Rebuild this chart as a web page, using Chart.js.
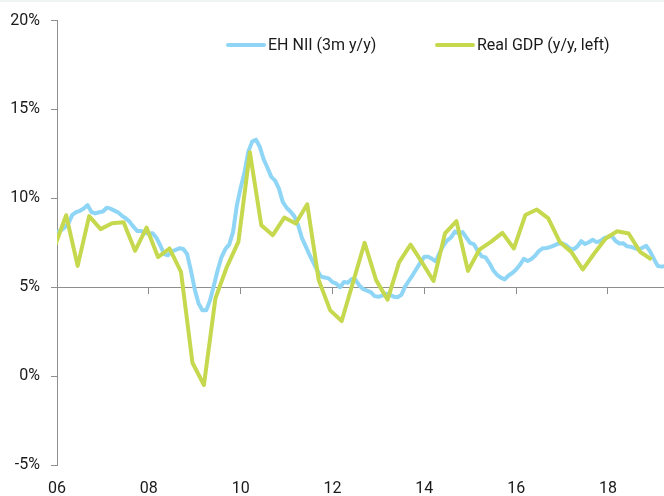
<!DOCTYPE html>
<html>
<head>
<meta charset="utf-8">
<script src="https://cdn.jsdelivr.net/npm/chart.js@4.4.1/dist/chart.umd.min.js"></script>
<style>
  html, body { margin: 0; padding: 0; background: #ffffff; }
  #wrap { position: relative; width: 664px; height: 496px; }
  #strip { position: absolute; left: 0; top: 0; width: 664px; height: 2px; background: #eef4ef; z-index: 2; }
  canvas { position: absolute; left: 0; top: 0; }
</style>
</head>
<body>
<div id="wrap"><div id="strip"></div><canvas id="c" width="664" height="496"></canvas></div>
<script>
// ---- data ----
const niiLabel = 'EH NII (3m y/y)';
const gdpLabel = 'Real GDP (y/y, left)';
const niiStartYear = 2006;            // monthly series starting Jan 2006
const ehNii = [
  8.1, 8.2, 8.37, 8.6, 9.07, 9.22, 9.3, 9.43, 9.62, 9.23, 9.15, 9.22,
  9.26, 9.47, 9.42, 9.31, 9.2, 9.02, 8.87, 8.68, 8.39, 8.16, 8.16, 8.05,
  8.02, 8.04, 7.77, 7.35, 6.87, 6.8, 7.02, 7.1, 7.19, 7.15, 6.87, 5.95,
  4.88, 4.08, 3.7, 3.7, 4.27, 5.1, 5.97, 6.7, 7.15, 7.4, 8.1, 9.6,
  10.6, 11.45, 12.63, 13.19, 13.3, 12.9, 12.2, 11.72, 11.21, 11.0, 10.55, 9.8,
  9.47, 9.26, 9.0, 8.5, 7.78, 7.3, 6.82, 6.38, 5.95, 5.6, 5.55, 5.5,
  5.29, 5.2, 5.0, 5.3, 5.25, 5.46, 5.42, 5.1, 4.9, 4.81, 4.72, 4.5,
  4.46, 4.53, 4.64, 4.57, 4.47, 4.44, 4.57, 5.05, 5.38, 5.7, 6.05, 6.4,
  6.71, 6.71, 6.6, 6.45, 6.95, 7.35, 7.64, 7.8, 8.13, 8.03, 8.1, 7.79,
  7.49, 7.41, 7.03, 6.74, 6.68, 6.36, 5.96, 5.7, 5.54, 5.44, 5.66, 5.8,
  6.0, 6.26, 6.6, 6.48, 6.59, 6.78, 7.05, 7.2, 7.21, 7.27, 7.36, 7.45,
  7.47, 7.37, 7.19, 7.13, 7.3, 7.59, 7.43, 7.53, 7.67, 7.54, 7.6, 7.76,
  7.84, 7.88, 7.6, 7.46, 7.47, 7.3, 7.27, 7.2, 7.12, 7.22, 7.33, 7.02,
  6.6, 6.2, 6.16, 6.19
];
const gdpStartYear = 2005.95;         // quarterly series
const realGdp = [
  7.3, 9.05, 6.2, 9.0, 8.27, 8.6, 8.66, 7.05, 8.36, 6.7, 7.18, 5.87,
  0.75, -0.5, 4.37, 6.15, 7.55, 12.6, 8.49, 7.93, 8.92, 8.58, 9.67, 5.4,
  3.7, 3.1, 5.3, 7.5, 5.4, 4.3, 6.4, 7.4, 6.4, 5.35, 8.03, 8.72,
  5.92, 7.12, 7.55, 8.06, 7.18, 9.06, 9.37, 8.87, 7.55, 6.99, 6.0, 6.9,
  7.74, 8.15, 8.02, 6.99, 6.56
];
const xTickYears = [2006, 2008, 2010, 2012, 2014, 2016, 2018];
const yTickValues = [-5, 0, 5, 10, 15, 20];
const xMin = 2006, xMax = 2019.22;
const yMin = -5, yMax = 20, refLine = 5;

// ---- build ----
const niiPoints = ehNii.map((v, i) => ({ x: niiStartYear + i / 12, y: v }));
const gdpPoints = realGdp.map((v, i) => ({ x: gdpStartYear + i * 0.25, y: v }));

const AXIS = '#8e8e8e';
const FONT = 'Roboto, "Noto Sans", sans-serif';

const legendPlugin = {
  id: 'inlineLegend',
  afterDatasetsDraw(chart, args, opts) {
    const ctx = chart.ctx;
    ctx.save();
    ctx.font = '16px ' + FONT;
    ctx.textBaseline = 'middle';
    ctx.textAlign = 'left';
    opts.items.forEach((it) => {
      const ds = chart.data.datasets[it.index];
      ctx.strokeStyle = ds.borderColor;
      ctx.lineWidth = 4;
      ctx.lineCap = 'round';
      ctx.beginPath();
      ctx.moveTo(it.x + 2, opts.y);
      ctx.lineTo(it.x + 38, opts.y);
      ctx.stroke();
      ctx.fillStyle = '#1a1a1a';
      ctx.fillText(ds.label, it.x + 42, opts.y + 1);
    });
    ctx.restore();
  }
};

new Chart(document.getElementById('c'), {
  type: 'line',
  data: {
    datasets: [
      { label: niiLabel, data: niiPoints, borderColor: '#8fd6f6', backgroundColor: '#8fd6f6',
        borderWidth: 4, pointRadius: 0, tension: 0, order: 1, borderJoinStyle: 'round' },
      { label: gdpLabel, data: gdpPoints, borderColor: '#c6d84e', backgroundColor: '#c6d84e',
        borderWidth: 4, pointRadius: 0, tension: 0, order: 0, borderJoinStyle: 'round' }
    ]
  },
  options: {
    responsive: false,
    animation: false,
    devicePixelRatio: 1,
    layout: { padding: { top: 20, right: 0, bottom: 0, left: 0 } },
    plugins: {
      legend: { display: false },
      tooltip: { enabled: false },
      inlineLegend: { y: 45, items: [{ index: 0, x: 226 }, { index: 1, x: 435 }] }
    },
    scales: {
      x: {
        type: 'linear', position: 'bottom', min: xMin, max: xMax,
        afterBuildTicks: (s) => { s.ticks = xTickYears.map(v => ({ value: v })); },
        afterFit: (s) => { s.height = 31; },
        grid: { display: false, drawTicks: false, tickLength: 0 },
        border: { display: false },
        ticks: { padding: 14, color: '#1a1a1a', font: { family: FONT, size: 16 },
                 maxRotation: 0, autoSkip: false,
                 callback: (v) => String(v).slice(2) }
      },
      x2: {
        type: 'linear', axis: 'x', position: { y: refLine }, min: xMin, max: xMax,
        afterBuildTicks: (s) => { s.ticks = xTickYears.map(v => ({ value: v })); },
        grid: { drawOnChartArea: false, drawTicks: true, tickLength: 6, color: AXIS },
        border: { display: true, color: AXIS, width: 1 },
        ticks: { display: false }
      },
      y: {
        type: 'linear', position: 'left', min: yMin, max: yMax,
        afterBuildTicks: (s) => { s.ticks = yTickValues.map(v => ({ value: v })); },
        afterFit: (s) => { s.width = 57; },
        grid: { drawOnChartArea: false, drawTicks: true, tickLength: 6, color: AXIS },
        border: { display: true, color: AXIS, width: 1 },
        ticks: { padding: 11, color: '#1a1a1a', font: { family: FONT, size: 16 },
                 callback: (v) => v + '%' }
      }
    }
  },
  plugins: [legendPlugin]
});
</script>
</body>
</html>
